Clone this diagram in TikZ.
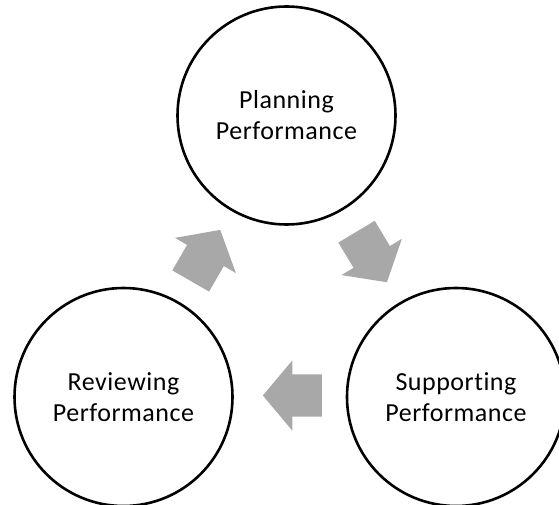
\documentclass[tikz,border=0pt]{standalone}
\usepackage{fontspec}
\setmainfont[Ligatures=NoCommon,LetterSpace=2]{Carlito}
\usetikzlibrary{shapes.arrows,calc}
\definecolor{arrowgray}{RGB}{168,168,168}
\tikzset{
  stage/.style={circle, draw=black, line width=2.6pt, minimum size=218pt, inner sep=0pt,
    align=center, font=\fontsize{26}{31}\selectfont},
  flowarrow/.style={single arrow, draw=none, fill=arrowgray, minimum height=59pt,
    inner xsep=0pt, inner ysep=21pt, single arrow head extend=14pt, single arrow tip angle=100}
}
\begin{document}
\begin{tikzpicture}[x=1pt,y=1pt]
\useasboundingbox (0,0) rectangle (559,504);
\node[stage] (plan) at (286.5,388.5) {Planning\\Performance};
\node[stage] (review) at (123.5,107) {Reviewing\\Performance};
\node[stage] (support) at (456,107) {Supporting\\Performance};
\node[flowarrow, rotate=60] (a1) at ($(review.center)!0.5!(plan.center)+(-4,-6.9)$) {};
\node[flowarrow, rotate=-59] (a2) at ($(plan.center)!0.5!(support.center)+(-4.1,6.9)$) {};
\node[flowarrow, rotate=180] (a3) at ($(support.center)!0.5!(review.center)+(11.5,1.5)$) {};
\end{tikzpicture}
\end{document}
